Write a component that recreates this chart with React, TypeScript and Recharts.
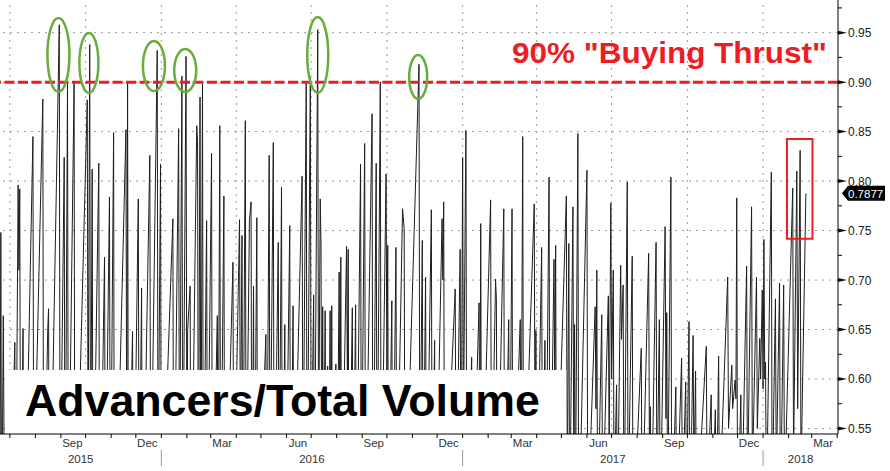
import React from 'react';
import { LineChart, Line, XAxis, YAxis, ReferenceLine, ReferenceArea, ReferenceDot } from 'recharts';

const FONT = '"Liberation Sans", Arial, sans-serif';

// x = calendar days since 2015-07-01, value = advancers / total volume
const h2_2015: [number, number][] = [
  [-12, 0.48], [-11, 0.748], [-10, 0.41], [-8, 0.664], [-6, 0.39], [0, 0.44], [6, 0.637], [7, 0.42],
  [10, 0.796], [11, 0.71], [12, 0.792], [13, 0.44], [16, 0.651], [17, 0.38], [28, 0.845], [29, 0.47],
  [40, 0.883], [41, 0.43], [46, 0.65], [47, 0.671], [48, 0.4], [60, 0.958], [61, 0.45], [66, 0.824],
  [67, 0.41], [70, 0.899], [71, 0.44], [78, 0.899], [79, 0.39], [94, 0.882], [95, 0.52], [97, 0.938],
  [98, 0.46], [100, 0.812], [101, 0.43], [108, 0.818], [109, 0.4], [115, 0.723], [116, 0.45], [121, 0.784],
  [122, 0.42], [126, 0.849], [127, 0.37], [141, 0.852], [142, 0.5], [143, 0.899], [144, 0.43], [149, 0.648],
  [150, 0.41], [156, 0.782], [157, 0.44], [160, 0.692], [161, 0.4], [170, 0.826], [171, 0.45], [179, 0.932],
  [180, 0.48], [183, 0.817],
];
const y2016: [number, number][] = [
  [184, 0.42], [198, 0.762], [199, 0.41], [205, 0.853], [206, 0.47], [209, 0.906], [210, 0.44], [214, 0.926],
  [215, 0.5], [216, 0.65], [219, 0.694], [220, 0.4], [227, 0.856], [228, 0.84], [229, 0.43], [231, 0.885],
  [232, 0.46], [234, 0.9], [235, 0.42], [239, 0.76], [240, 0.44], [245, 0.828], [246, 0.41], [252, 0.664],
  [253, 0.45], [255, 0.856], [256, 0.43], [260, 0.785], [261, 0.39], [271, 0.718], [272, 0.44], [279, 0.761],
  [280, 0.52], [282, 0.745], [283, 0.42], [286, 0.861], [287, 0.45], [291, 0.76], [293, 0.779], [294, 0.41],
  [296, 0.694], [297, 0.43], [300, 0.763], [301, 0.4], [311, 0.645], [312, 0.44], [315, 0.826], [316, 0.46],
  [320, 0.839], [321, 0.42], [326, 0.738], [327, 0.45], [330, 0.794], [331, 0.41], [334, 0.655], [335, 0.43],
  [340, 0.755], [341, 0.4], [344, 0.674], [345, 0.44], [355, 0.805], [356, 0.47], [360, 0.899], [361, 0.43],
  [365, 0.905], [366, 0.49], [369, 0.685], [370, 0.46], [374, 0.953], [375, 0.5], [377, 0.782], [378, 0.735],
  [379, 0.44], [380, 0.673], [381, 0.45], [383, 0.669], [384, 0.42], [386, 0.613], [387, 0.44], [389, 0.669],
  [390, 0.47], [391, 0.674], [392, 0.43], [396, 0.615], [397, 0.41], [400, 0.708], [401, 0.52], [402, 0.723],
  [403, 0.44], [409, 0.734], [410, 0.6], [411, 0.731], [412, 0.43], [416, 0.672], [417, 0.45], [420, 0.675],
  [421, 0.42], [426, 0.817], [427, 0.46], [431, 0.838], [432, 0.44], [440, 0.868], [441, 0.41], [445, 0.818],
  [446, 0.45], [450, 0.9], [451, 0.43], [457, 0.807], [458, 0.6], [459, 0.735], [460, 0.44], [464, 0.679],
  [465, 0.42], [469, 0.733], [470, 0.45], [477, 0.772], [479, 0.752], [480, 0.43], [497, 0.918], [498, 0.48],
  [501, 0.74], [502, 0.45], [505, 0.703], [506, 0.43], [512, 0.771], [513, 0.46], [516, 0.639], [517, 0.42],
  [525, 0.762], [526, 0.7], [527, 0.779], [528, 0.44], [541, 0.691], [542, 0.45], [547, 0.731], [548, 0.43],
];
const y2017: [number, number][] = [
  [550, 0.824], [551, 0.55], [554, 0.851], [555, 0.46], [561, 0.622], [562, 0.44], [570, 0.677], [571, 0.5],
  [572, 0.757], [573, 0.43], [584, 0.781], [585, 0.46], [590, 0.701], [591, 0.68], [592, 0.44], [600, 0.772],
  [601, 0.42], [606, 0.66], [607, 0.45], [610, 0.772], [611, 0.43], [620, 0.66], [621, 0.47], [623, 0.845],
  [624, 0.44], [637, 0.777], [638, 0.5], [639, 0.649], [640, 0.43], [646, 0.733], [647, 0.46], [650, 0.639],
  [651, 0.44], [655, 0.804], [656, 0.42], [661, 0.721], [662, 0.58], [663, 0.735], [664, 0.45], [676, 0.785],
  [677, 0.47], [679, 0.737], [680, 0.44], [684, 0.774], [685, 0.5], [686, 0.655], [687, 0.46], [690, 0.848],
  [691, 0.43], [701, 0.811], [702, 0.45], [711, 0.673], [712, 0.57], [713, 0.71], [714, 0.44], [719, 0.665],
  [720, 0.46], [727, 0.684], [728, 0.52], [730, 0.778], [731, 0.6], [733, 0.71], [734, 0.47], [737, 0.594],
  [738, 0.45], [742, 0.715], [743, 0.64], [745, 0.695], [746, 0.44], [750, 0.799], [751, 0.46], [756, 0.724],
  [757, 0.43], [767, 0.631], [768, 0.45], [776, 0.727], [777, 0.5], [778, 0.572], [779, 0.44], [785, 0.738],
  [786, 0.47], [789, 0.66], [790, 0.45], [796, 0.754], [797, 0.56], [798, 0.667], [799, 0.46], [803, 0.804],
  [804, 0.44], [809, 0.592], [810, 0.45], [816, 0.621], [817, 0.47], [821, 0.597], [822, 0.46], [825, 0.658],
  [826, 0.43], [830, 0.644], [831, 0.5], [833, 0.608], [834, 0.45], [846, 0.633], [847, 0.48], [852, 0.584],
  [853, 0.46], [857, 0.569], [858, 0.44], [861, 0.623], [862, 0.47], [872, 0.703], [873, 0.55], [877, 0.614],
  [878, 0.57], [881, 0.599], [882, 0.58], [883, 0.783], [884, 0.45], [888, 0.584], [889, 0.46], [895, 0.714],
  [896, 0.48], [901, 0.774], [902, 0.5], [907, 0.703], [908, 0.55], [911, 0.641], [912, 0.6], [914, 0.69],
];
const y2018: [number, number][] = [
  [915, 0.59], [916, 0.741], [917, 0.6], [918, 0.617], [919, 0.46], [925, 0.809], [926, 0.47], [930, 0.681],
  [931, 0.5], [935, 0.697], [936, 0.45], [940, 0.695], [941, 0.48], [951, 0.793], [952, 0.52], [956, 0.81],
  [957, 0.57], [960, 0.831], [961, 0.5], [967, 0.7877],
];

const monthStarts = [0, 31, 62, 92, 123, 153, 184, 215, 244, 275, 305, 336, 366, 397, 428, 458, 489, 519, 550, 581, 609, 640, 670, 701, 731, 762, 793, 823, 854, 884, 915, 946, 974, 1005];
const quarterStarts = [0, 92, 184, 275, 366, 458, 550, 640, 731, 823, 915];
const yearStarts = [184, 550, 915];
const monthLabels: [number, string][] = [
  [76, 'Sep'], [167, 'Dec'], [258, 'Mar'], [350, 'Jun'], [442, 'Sep'], [533, 'Dec'],
  [623, 'Mar'], [715, 'Jun'], [807, 'Sep'], [898, 'Dec'], [988, 'Mar'],
];
const yearLabels: [number, string][] = [[86, '2015'], [367, '2016'], [732.5, '2017'], [960.5, '2018']];
const yMajor = [0.55, 0.6, 0.65, 0.7, 0.75, 0.8, 0.85, 0.9, 0.95];
const yMinor = [0.575, 0.625, 0.675, 0.725, 0.775, 0.825, 0.875, 0.925, 0.975];
const xDomain: [number, number] = [-12, 1006];
const yDomain: [number, number] = [0.5444, 0.983];
const thrustLevel = 0.9;
const thrustLabel = '90% "Buying Thrust"';
const titleLabel = 'Advancers/Total Volume';
const lastValue = 0.7877;
const circledPeaks: [number, number][] = [[59, 0.9275], [96, 0.9194], [175, 0.9163], [213, 0.9118], [374, 0.9275], [496, 0.9052]];
const recentBox = { x1: 944, x2: 975, y1: 0.7416, y2: 0.8426 };
const titleBox = { x1: -6, x2: 676, y2: 0.6091 };

const data = [...h2_2015, ...y2016, ...y2017, ...y2018].map(([d, v]) => ({ d, v }));

// ellipse sizes (px) for each circled peak
const ellipseSize: [number, number][] = [[11, 37], [9.5, 30], [11, 25], [11, 21.5], [10.5, 38], [9, 22]];

const monthMap = new Map(monthLabels);
const yearMap = new Map(yearLabels);
const xTicks = Array.from(new Set([...monthStarts, ...monthLabels.map((m) => m[0]), ...yearLabels.map((y) => y[0])])).sort((a, b) => a - b);

const XTick = (props: any) => {
  const { x, y, payload } = props;
  const v = payload.value;
  if (monthMap.has(v)) {
    return (
      <text x={x} y={y + 13} textAnchor="middle" fontSize={11.5} fill="#333" fontFamily={FONT}>
        {monthMap.get(v)}
      </text>
    );
  }
  if (yearMap.has(v)) {
    return (
      <text x={x} y={y + 29} textAnchor="middle" fontSize={11.5} fill="#333" fontFamily={FONT}>
        {yearMap.get(v)}
      </text>
    );
  }
  return (
    <g>
      <line x1={x} x2={x} y1={y} y2={y + 4} stroke="#000" strokeWidth={1} />
      {yearStarts.includes(v) && <line x1={x} x2={x} y1={y + 16} y2={y + 32} stroke="#999" strokeWidth={1} />}
    </g>
  );
};

const YTick = (props: any) => {
  const { x, y, payload } = props;
  const v = payload.value;
  const major = Math.round(v * 1000) % 50 === 0;
  if (!major) return <line x1={x} x2={x + 4} y1={y} y2={y} stroke="#000" strokeWidth={1} />;
  return (
    <g>
      <path d={`M${x},${y - 2}L${x + 9},${y}L${x},${y + 2}Z`} fill="#111" />
      <text x={x + 10} y={y + 4.5} fontSize={12} fill="#222" fontFamily={FONT}>
        {v.toFixed(2)}
      </text>
    </g>
  );
};

export default function App() {
  return (
    <div style={{ position: 'absolute', left: 0, top: 0, width: 890, height: 471, background: '#fff', fontFamily: FONT }}>
      <LineChart width={890} height={471} data={data} margin={{ top: 0, right: 0, left: 0, bottom: 0 }}>
        {quarterStarts.map((q) => (
          <ReferenceLine key={'vq' + q} x={q} stroke="#9a9a9a" strokeWidth={1} strokeDasharray="2 5" zIndex={-100} />
        ))}
        {yMajor.map((m) => (
          <ReferenceLine key={'hy' + m} y={m} stroke="#9a9a9a" strokeWidth={1} strokeDasharray="2 5" zIndex={-100} />
        ))}
        <Line
          type="linear"
          dataKey="v"
          stroke="#1e1e1e"
          strokeWidth={1}
          dot={false}
          activeDot={false}
          isAnimationActive={false}
        />
        <ReferenceArea
          x1={titleBox.x1}
          x2={titleBox.x2}
          y1={yDomain[0]}
          y2={titleBox.y2}
          fill="#ffffff"
          fillOpacity={1}
          stroke="none"
          ifOverflow="visible"
          zIndex={450}
          label={{
            content: (p: any) => (
              <text
                x={p.viewBox.x + 20}
                y={p.viewBox.y + p.viewBox.height - 18}
                fontSize={44}
                fontWeight="bold"
                fill="#000"
                fontFamily={FONT}
                textLength={515}
                lengthAdjust="spacingAndGlyphs"
              >
                {titleLabel}
              </text>
            ),
          }}
        />
        <ReferenceLine
          y={thrustLevel}
          stroke="#ee1c24"
          strokeWidth={3}
          strokeDasharray="10 3.5"
          zIndex={460}
          label={{
            content: (p: any) => (
              <text
                x={p.viewBox.x + p.viewBox.width - 11}
                y={p.viewBox.y - 19}
                textAnchor="end"
                fontSize={29}
                fontWeight="bold"
                fill="#ee1c24"
                fontFamily={FONT}
                textLength={315}
                lengthAdjust="spacingAndGlyphs"
              >
                {thrustLabel}
              </text>
            ),
          }}
        />
        {circledPeaks.map(([d, v], i) => (
          <ReferenceDot
            key={'c' + i}
            x={d}
            y={v}
            r={10}
            ifOverflow="visible"
            zIndex={470}
            shape={(p: any) => (
              <ellipse
                cx={p.cx}
                cy={p.cy}
                rx={ellipseSize[i][0]}
                ry={ellipseSize[i][1]}
                fill="none"
                stroke="#6aac3c"
                strokeWidth={2.5}
              />
            )}
          />
        ))}
        <ReferenceArea
          x1={recentBox.x1}
          x2={recentBox.x2}
          y1={recentBox.y1}
          y2={recentBox.y2}
          fill="none"
          fillOpacity={0}
          stroke="#ee1c24"
          strokeWidth={2}
          ifOverflow="visible"
          zIndex={470}
        />
        <XAxis
          dataKey="d"
          type="number"
          domain={xDomain}
          allowDataOverflow
          ticks={xTicks}
          interval={0}
          tick={<XTick />}
          tickLine={false}
          tickSize={0}
          tickMargin={0}
          height={37}
          axisLine={{ stroke: '#000', strokeWidth: 1 }}
        />
        <YAxis
          orientation="right"
          type="number"
          domain={yDomain}
          allowDataOverflow
          ticks={[...yMajor, ...yMinor]}
          interval={0}
          tick={<YTick />}
          tickLine={false}
          tickSize={0}
          tickMargin={0}
          width={52}
          axisLine={{ stroke: '#000', strokeWidth: 1 }}
        />
        <ReferenceDot
          x={xDomain[1]}
          y={lastValue}
          r={4}
          ifOverflow="visible"
          zIndex={600}
          shape={(p: any) => (
            <g>
              <path
                d={`M${p.cx + 4},${p.cy} L${p.cx + 10},${p.cy - 7.5} H${p.cx + 47} V${p.cy + 7.5} H${p.cx + 10} Z`}
                fill="#000"
              />
              <text x={p.cx + 10} y={p.cy + 4.5} fill="#fff" fontSize={11.5} fontFamily={FONT}>
                {lastValue.toFixed(4)}
              </text>
            </g>
          )}
        />
      </LineChart>
    </div>
  );
}
